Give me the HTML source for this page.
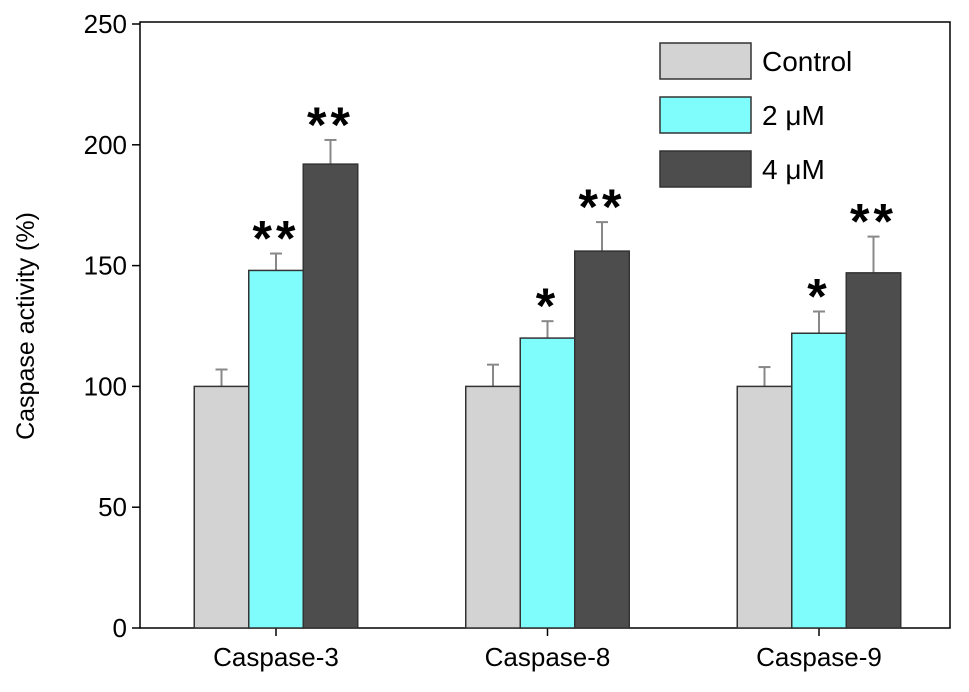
<!DOCTYPE html>
<html><head><meta charset="utf-8"><style>
body{margin:0;background:#fff;}
svg{display:block;font-family:"Liberation Sans",sans-serif;}
</style></head><body>
<svg id="chart" width="969" height="692"></svg>
<script>
const categories=["Caspase-3","Caspase-8","Caspase-9"];
const seriesNames=["Control","2 \u03bcM","4 \u03bcM"];
const controlValues=[100,100,100];
const low2Values=[148,120,122];
const high4Values=[192,156,147];
const controlErr=[7,9,8];
const low2Err=[7,7,9];
const high4Err=[10,12,15];
const low2Sig=["**","*","*"];
const high4Sig=["**","**","**"];
const yTicks=[0,50,100,150,200,250];
const NS="http://www.w3.org/2000/svg";
const svg=document.getElementById('chart');
const X0=140,X1=950,Y0=628,Y1=24;
const y=v=>Y0-(v/250)*(Y0-Y1);
const groupCenter=i=>276+i*271.5;
const BW=54.5;
const colors=["#d3d3d3","#7ffcfc","#4d4d4d"];
function mk(t,a){const e=document.createElementNS(NS,t);for(const k in a)e.setAttribute(k,a[k]);svg.appendChild(e);return e;}
let frame=mk('rect',{x:X0,y:Y1-2,width:X1-X0,height:Y0-Y1+2,fill:'none',stroke:'#000','stroke-width':1.5});

yTicks.forEach(v=>{
 let l=mk('line',{x1:X0-8,x2:X0,y1:y(v),y2:y(v),stroke:'#000','stroke-width':1.5});
 
 let t=mk('text',{x:X0-13,y:y(v)+9,'text-anchor':'end','font-size':26});t.textContent=v;
 
});
let yt=mk('text',{x:0,y:0,'text-anchor':'middle','font-size':25,transform:'translate(34,326) rotate(-90)'});
yt.textContent='Caspase activity (%)';

const series=[controlValues,low2Values,high4Values];
const errs=[controlErr,low2Err,high4Err];
const sigs=[null,low2Sig,high4Sig];
categories.forEach((c,i)=>{
 const gc=groupCenter(i);
 let tk=mk('line',{x1:gc,x2:gc,y1:Y0,y2:Y0+8,stroke:'#000','stroke-width':1.5});
 
 let t=mk('text',{x:gc,y:Y0+38,'text-anchor':'middle','font-size':26});t.textContent=c;
 
 series.forEach((s,j)=>{
  const bx=gc-1.5*BW+j*BW,cx=bx+BW/2,top=y(s[i]),et=y(s[i]+errs[j][i]);
  let e=mk('line',{x1:cx,x2:cx,y1:top,y2:et,stroke:'#888','stroke-width':2});
  
  let cp=mk('line',{x1:cx-6,x2:cx+6,y1:et,y2:et,stroke:'#888','stroke-width':2});
  
  let r=mk('rect',{x:bx,y:top,width:BW,height:Y0-top,fill:colors[j],stroke:'#333','stroke-width':1.5});
  
  if(sigs[j]){let st=mk('text',{x:cx,y:et+2,'text-anchor':'middle','font-size':50,'font-weight':'bold','letter-spacing':4});
   st.textContent=sigs[j][i];
   }
 });
});
seriesNames.forEach((n,j)=>{
 const ty=43+j*54;
 let r=mk('rect',{x:660,y:ty,width:91,height:36,fill:colors[j],stroke:'#333','stroke-width':1.5});
 
 let t=mk('text',{x:762,y:ty+28,'font-size':28});t.textContent=n;
 
});
</script>
</body></html>
